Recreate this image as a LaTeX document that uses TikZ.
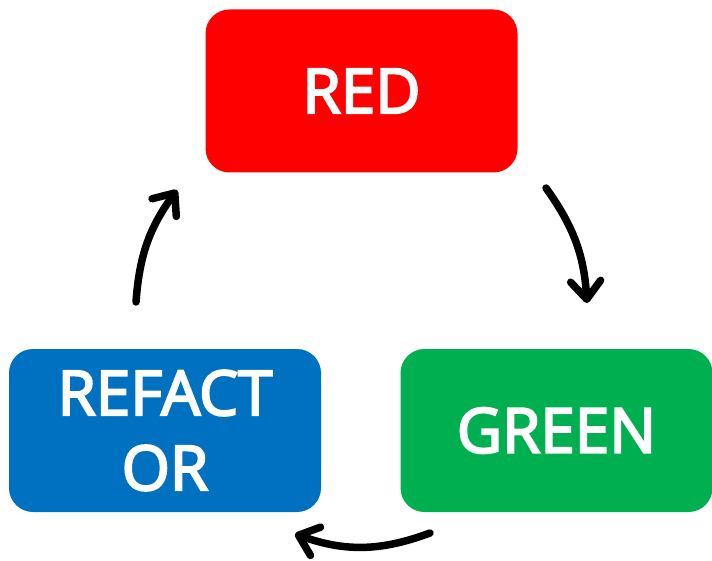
\documentclass[tikz,border=0pt]{standalone}
\usepackage{fontspec}
\setmainfont{Open Sans}[FakeBold=3.5]
\usetikzlibrary{arrows.meta}
\definecolor{cred}{HTML}{FF0000}
\definecolor{cgreen}{HTML}{00B050}
\definecolor{cblue}{HTML}{0070C0}
\begin{document}
\begin{tikzpicture}[x=1pt,y=-1pt,
  box/.style={rounded corners=24pt, minimum width=312pt, minimum height=163pt,
    inner sep=0pt, text=white, font=\fontsize{62}{75}\selectfont, align=center},
  cyc/.style={line width=7.5pt, line cap=round,
    -{Straight Barb[length=18pt, width=30pt, line cap=round, line join=round]}}]
\useasboundingbox (0,0) rectangle (712,561);
\node[box, fill=cred] (red) at (361.5,91) {RED};
\node[box, fill=cgreen] (green) at (556.5,430.5) {GREEN};
\node[box, fill=cblue] (ref) at (165,430.5) {REFACT\\OR};
\coordinate (a1s) at (546,188);
\coordinate (a1e) at (587,303);
\coordinate (a2s) at (430,533);
\coordinate (a2e) at (295,534);
\coordinate (a3s) at (136,302);
\coordinate (a3e) at (177,190);
\draw[cyc] (a1s) to[bend left=16] (a1e);
\draw[cyc] (a2s) to[bend left=20] (a2e);
\draw[cyc] (a3s) to[bend left=16] (a3e);
\end{tikzpicture}
\end{document}
